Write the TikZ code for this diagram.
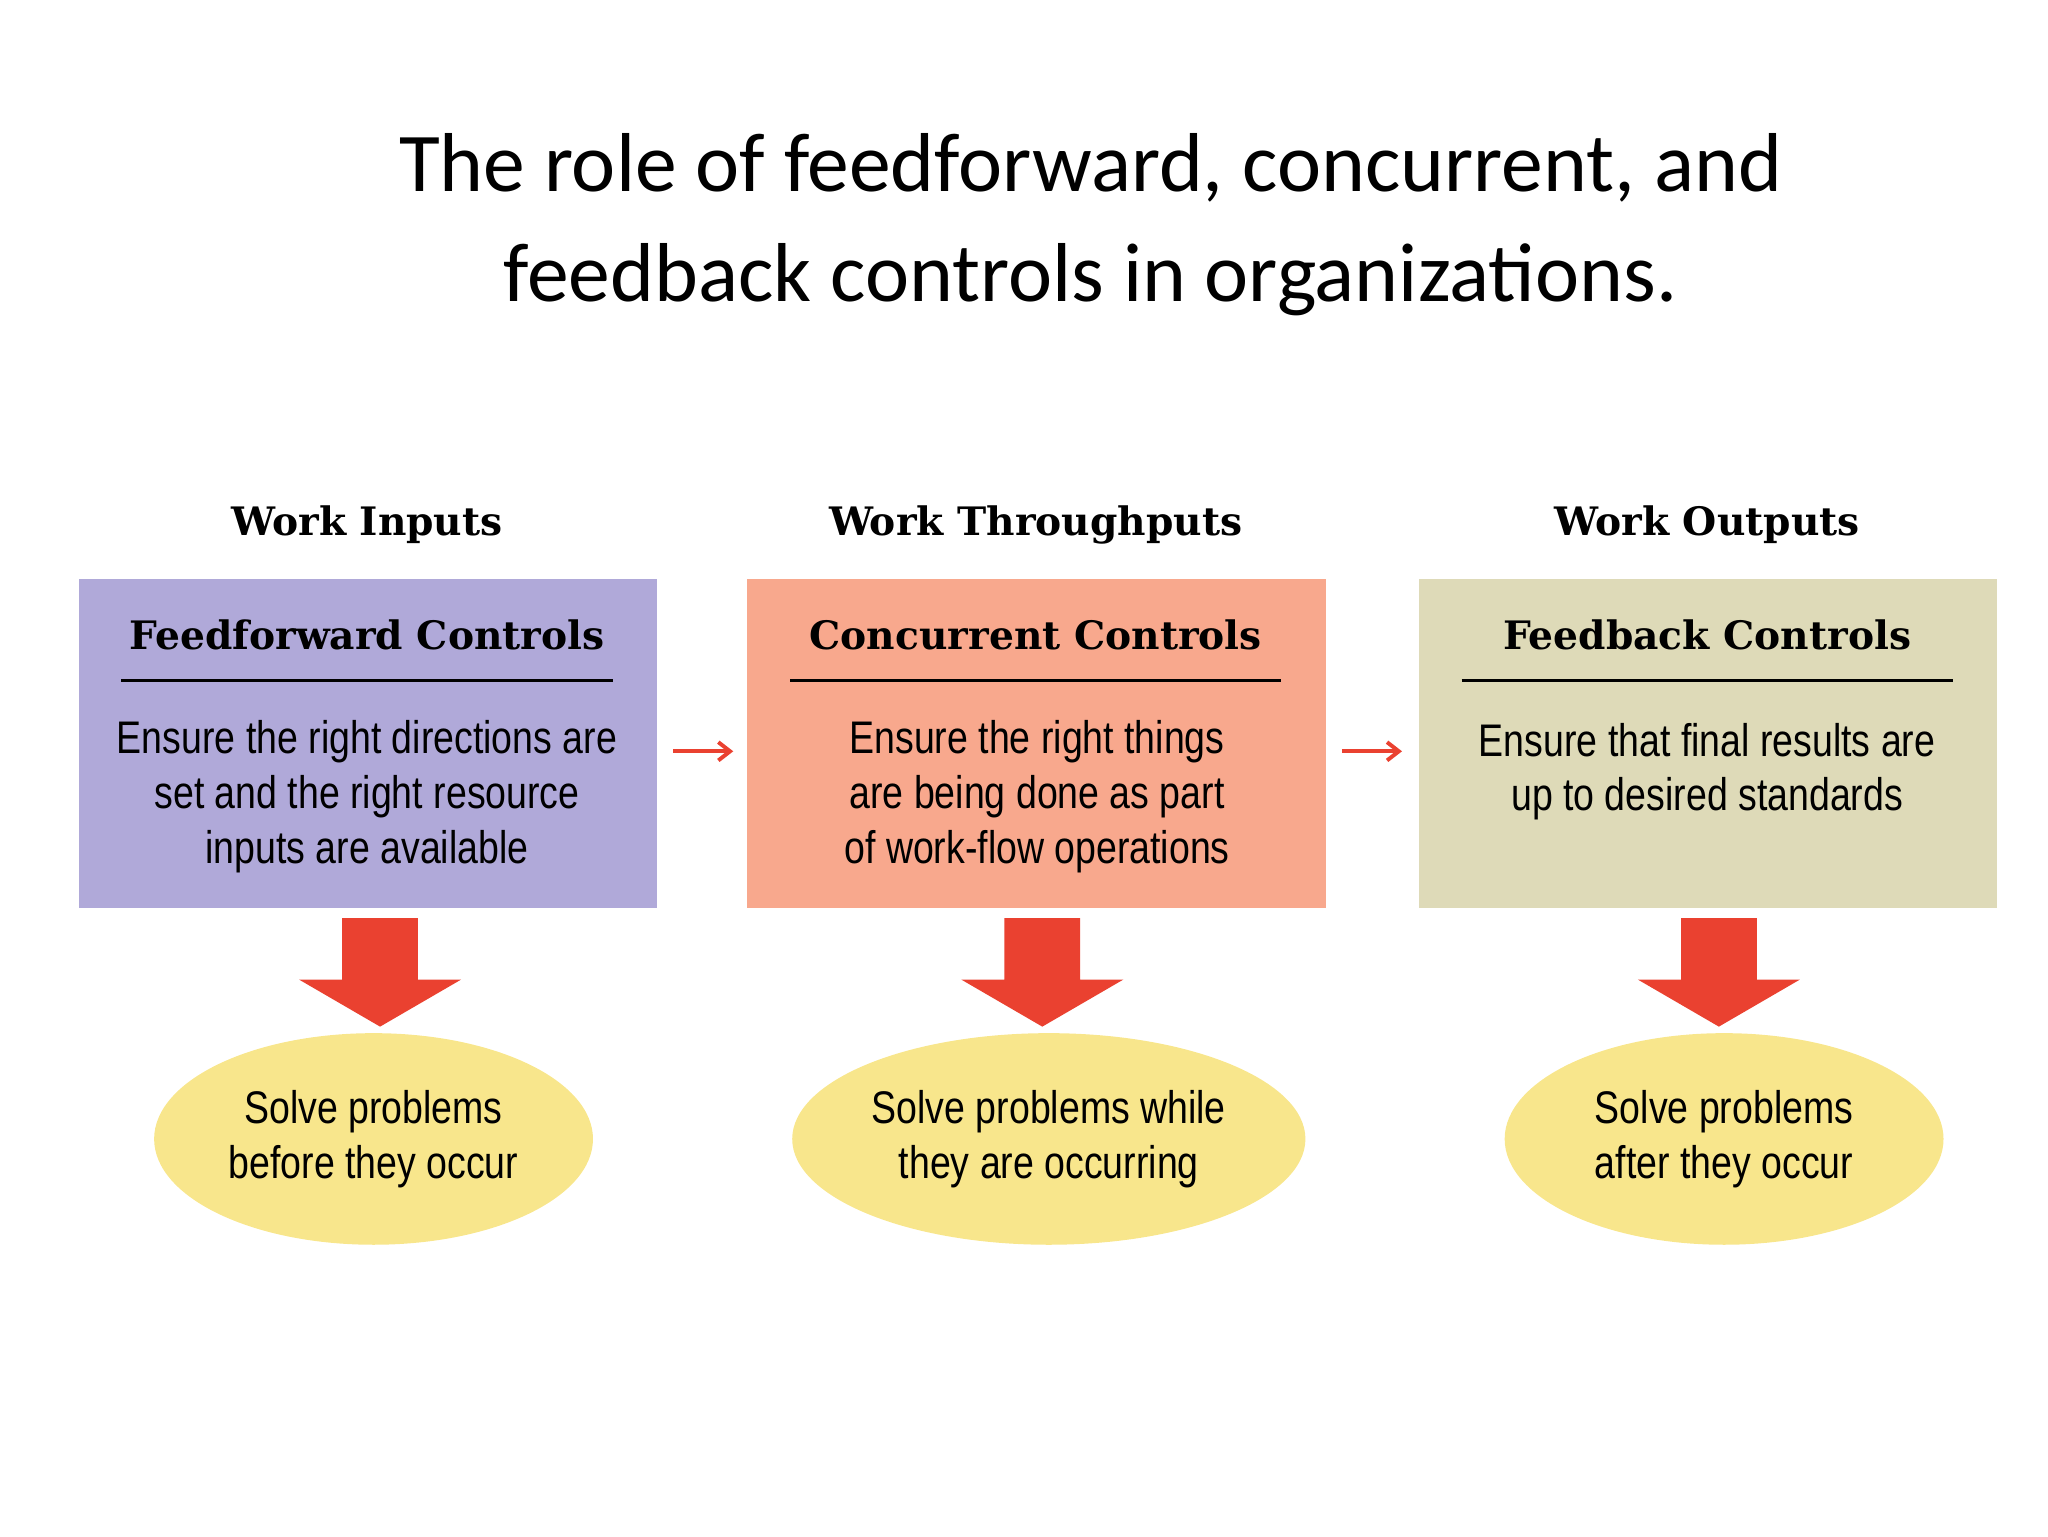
\documentclass[tikz,border=0pt]{standalone}
\usepackage{fontspec}
\setmainfont{Carlito}
\newfontfamily\hdfont{DejaVu Serif}
\newfontfamily\bodyfont[FakeStretch=0.82]{Liberation Sans}
\begin{document}
\begin{tikzpicture}[x=1pt,y=-1pt,
  box/.style={draw=none,minimum width=443pt,minimum height=252pt,anchor=north west,inner sep=0},
  hd/.style={font=\hdfont\bfseries\fontsize{30}{34}\selectfont,scale=1},
  body/.style={font=\bodyfont\fontsize{35}{42}\selectfont,align=center},
  ell/.style={ellipse,fill=ellyel,minimum width=336pt,minimum height=162pt,font=\bodyfont\fontsize{35}{42}\selectfont,align=center},
  sa/.style={draw=arrred,line width=3pt,-{Straight Barb[length=9pt,width=14pt]}},
  big/.style={fill=arrred}]
\usetikzlibrary{shapes.geometric,arrows.meta}
\definecolor{c1}{HTML}{B0A9D9}
\definecolor{c2}{HTML}{F8A88D}
\definecolor{c3}{HTML}{DEDAB8}
\definecolor{ellyel}{HTML}{F8E68C}
\definecolor{arrred}{HTML}{EA4130}
\useasboundingbox (0,0) rectangle (1568,1176);
\node (title) at (835,172) [font=\fontsize{64}{84}\selectfont,align=center] {The role of feedforward, concurrent, and\\feedback controls in organizations.};
\foreach \i/\x/\c/\w/\h/\t/\e in {
 1/60/c1/Work Inputs/Feedforward Controls/{Ensure the right directions are\\set and the right resource\\inputs are available}/{Solve problems\\before they occur},
 2/572/c2/Work Throughputs/Concurrent Controls/{Ensure the right things\\are being done as part\\of work-flow operations}/{Solve problems while\\they are occurring},
 3/1086/c3/Work Outputs/Feedback Controls/{Ensure that final results are\\up to desired standards}/{Solve problems\\after they occur}}{
  \node[box,fill=\c] (b\i) at (\x,443) {};
  \node[hd] (w\i) at ([xshift=221pt]\x,402) {\w};
  \node[hd] (h\i) at ([xshift=221pt]\x,486) {\h};
  \draw[line width=2pt] ([xshift=-188pt,yshift=-35pt]h\i.center) -- ([xshift=188pt,yshift=-35pt]h\i.center);
}
\node[body,anchor=north] (t1) at (281,548) {Ensure the right directions are\\set and the right resource\\inputs are available};
\node[body,anchor=north] (t2) at (794,548) {Ensure the right things\\are being done as part\\of work-flow operations};
\node[body,anchor=north] (t3) at (1307,550) {Ensure that final results are\\up to desired standards};
\node[ell] (e1) at (286,872) {Solve problems\\before they occur};
\node[ell] (e2) at (803,872) {Solve problems while\\they are occurring};
\node[ell] (e3) at (1320,872) {Solve problems\\after they occur};
\draw[sa] (b1.east)++(12pt,-6pt) coordinate (a1) -- ++(46pt,0) coordinate (a1e);
\draw[sa] (b2.east)++(12pt,-6pt) coordinate (a2) -- ++(46pt,0) coordinate (a2e);
\foreach \x in {291,798,1316}{
  \fill[big] (\x-29,703) -- (\x+29,703) -- (\x+29,750) -- (\x+62,750) -- (\x,786) -- (\x-62,750) -- (\x-29,750) -- cycle;
}
\end{tikzpicture}
\end{document}
